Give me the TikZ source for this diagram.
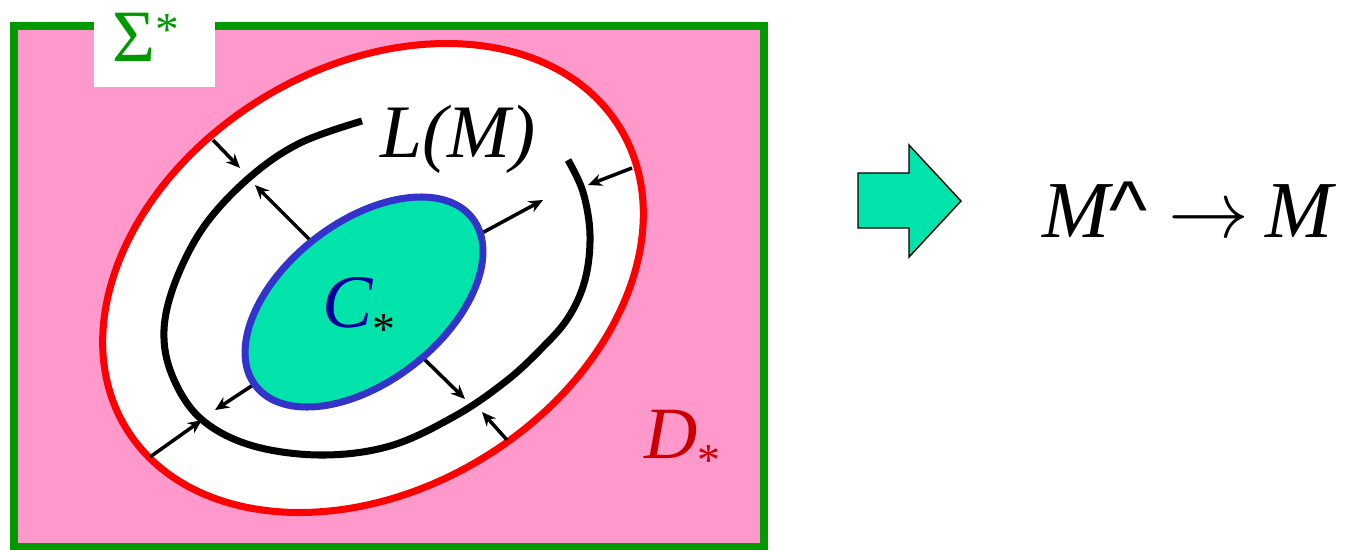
\documentclass[tikz,border=0pt]{standalone}
\usepackage{fontspec}
\setmainfont{Liberation Serif}
\setsansfont{Liberation Sans}
\usetikzlibrary{arrows.meta}

\definecolor{pinkbg}{RGB}{255,153,204}
\definecolor{sigmagreen}{RGB}{0,153,0}
\definecolor{mintfill}{RGB}{0,227,170}
\definecolor{rimblue}{RGB}{51,51,204}
\definecolor{cblue}{RGB}{0,0,153}
\definecolor{dred}{RGB}{204,0,0}

\newcommand{\bigtxt}[1]{\fontsize{#1}{#1}\selectfont}
\newcommand{\astup}{\raisebox{9pt}{\fontsize{27}{27}\selectfont\upshape *}}
\newcommand{\astdown}{\raisebox{-10pt}{\fontsize{26}{26}\selectfont\upshape *}}
\newcommand{\bigarrow}{{\fontsize{10}{12}\selectfont\scalebox{4.6}{$\rightarrow$}}}

\begin{document}
\begin{tikzpicture}[x=0.02cm, y=-0.02cm,
  lbl/.style={inner sep=0pt, anchor=base west},
  rim/.style={line width=4pt},
  arr/.style={-{Stealth[length=8pt,width=7pt]}, line width=2pt}]
\useasboundingbox (0,0) rectangle (1355,549);
% Sigma* box
\draw[sigmagreen, rim, fill=pinkbg] (14,26) rectangle (764,546);
\fill[white] (94,18) rectangle (215,87);
% D* and L(M)
\draw[red, rim, fill=white, rotate around={31.2:(373,278)}] (373,278) ellipse[x radius=289, y radius=211];
\draw[rim] plot[smooth, tension=0.6] coordinates {(362,121) (300,143) (250,177) (205,225) (176,280) (164,330) (172,375) (200,418) (250,445) (320,455) (390,446) (455,416) (505,382) (540,350) (568,318) (585,280) (590,235) (583,192) (568,160)};
% arrows
\foreach \xa/\ya/\xb/\yb in {213/140/240/168, 632/168/588/185, 507/440/482/412, 150/457/202/420}
  \draw[arr] (\xa,\ya) -- (\xb,\yb);
\foreach \xa/\ya/\xb/\yb in {308/238/255/185, 482/233/543/200, 420/355/465/399, 250/387/215/410}
  \draw[arr, shorten <=-5pt] (\xa,\ya) -- (\xb,\yb);
% C*
\draw[rimblue, line width=4pt, fill=mintfill, rotate around={37.7:(364,302)}] (364,302) ellipse[x radius=137, y radius=80];
% labels
\node[lbl, sigmagreen] (sigma) at (112,61) {\bigtxt{42}Σ\astup};
\node[lbl] (lm) at (380,157) {\bigtxt{43}\itshape L(M)};
\node[lbl] (cstar) at (322,327) {\bigtxt{43}\color{cblue}\itshape C\color{black}\astdown};
\node[lbl, dred] (dstar) at (644,458) {\bigtxt{42}\itshape D\astdown};
% M^ -> M
\draw[fill=mintfill, line width=0.8pt] (858,173) -- (909,173) -- (909,145) -- (961,201) -- (909,257) -- (909,228) -- (858,228) -- cycle;
\node[lbl] (rule) at (1042,237) {\bigtxt{46}\itshape M\upshape\sffamily\textasciicircum\hspace{12pt}\bigarrow\hspace{9pt}\rmfamily\itshape M};
\end{tikzpicture}
\end{document}
